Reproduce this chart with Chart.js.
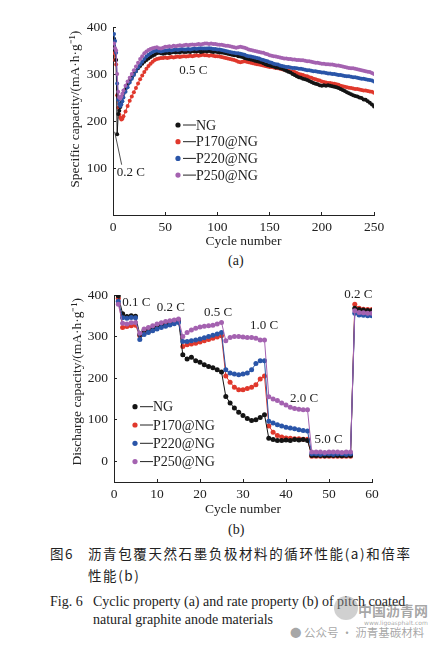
<!DOCTYPE html>
<html>
<head>
<meta charset="utf-8">
<script src="https://cdn.jsdelivr.net/npm/chart.js@4.4.1/dist/chart.umd.min.js"></script>
<style>
  body { margin: 0; background: #fff; }
  #pagina { position: relative; width: 445px; height: 647px; overflow: hidden; font-family: "Liberation Serif", serif; color: #222; }
  canvas { position: absolute; left: 0; }
  .texto { position: absolute; white-space: nowrap; line-height: 1; }
  .cjk { font-family: "Noto Sans CJK SC", sans-serif; font-size: 13.5px; letter-spacing: 1.6px; }
  .fig { font-size: 14px; }
  .marca { color: rgba(90, 90, 90, 0.55); }
</style>
</head>
<body>
<div id="pagina">
  <canvas id="graficoA" width="445" height="252" style="top:0"></canvas>
  <canvas id="graficoB" width="445" height="250" style="top:270px"></canvas>

  <div class="texto fig" style="left:228px; top:254px;">(a)</div>
  <div class="texto fig" style="left:228px; top:523px;">(b)</div>

  <div class="texto cjk" style="left:50px; top:547px;">图6</div>
  <div class="texto cjk" style="left:88px; top:547px;">沥青包覆天然石墨负极材料的循环性能(a)和倍率</div>
  <div class="texto cjk" style="left:88px; top:569px;">性能(b)</div>
  <div class="texto fig" style="left:50px; top:595px;">Fig. 6</div>
  <div class="texto fig" style="left:93px; top:595px;">Cyclic property (a) and rate property (b) of pitch coated</div>
  <div class="texto fig" style="left:93px; top:613px;">natural graphite anode materials</div>

  <div class="texto marca" style="left:334px; top:596px; width:24px; height:24px; border-radius:12px; background:rgba(150,150,150,0.45);"></div>
  <div class="texto marca" style="left:358px; top:603px; font-family:'Noto Sans CJK SC'; font-size:14px; font-weight:bold;">中国沥青网</div>
  <div class="texto marca" style="left:364px; top:620px; font-family:'DejaVu Sans'; font-size:6px;">www.ligoasphalt.com</div>
  <div class="texto marca" style="left:290px; top:627px; font-family:'Noto Sans CJK SC'; font-size:11.5px;">● 公众号 · 沥青基碳材料</div>
</div>

<script>
// (a) ciclo de vida a 0.5 C
const ciclosA = [1, 2, 3, 4, 5, 6, 7, 8, 9, 10,
  12, 14, 16, 18, 20, 22, 24, 26, 28, 30,
  32, 34, 36, 38, 40, 42, 44, 46, 48, 50,
  52, 54, 56, 58, 60, 62, 64, 66, 68, 70,
  72, 74, 76, 78, 80, 82, 84, 86, 88, 90,
  92, 94, 96, 98, 100, 102, 104, 106, 108, 110,
  112, 114, 116, 118, 120, 122, 124, 126, 128, 130,
  132, 134, 136, 138, 140, 142, 144, 146, 148, 150,
  152, 154, 156, 158, 160, 162, 164, 166, 168, 170,
  172, 174, 176, 178, 180, 182, 184, 186, 188, 190,
  192, 194, 196, 198, 200, 202, 204, 206, 208, 210,
  212, 214, 216, 218, 220, 222, 224, 226, 228, 230,
  232, 234, 236, 238, 240, 242, 244, 246, 248, 250];

const ngA = [375, 350, 330, 172, 215, 222, 230, 240, 250, 258,
  268, 278, 286, 293, 300, 306, 312, 317, 322, 326,
  330, 333, 336, 339, 341, 344, 345, 344, 343, 344,
  345, 344, 346, 347, 346, 347, 346, 348, 347, 347,
  348, 347, 349, 348, 348, 349, 347, 348, 349, 348,
  349, 348, 347, 348, 347, 346, 346, 345, 344, 343,
  342, 341, 340, 340, 338, 337, 336, 334, 333, 332,
  331, 330, 328, 327, 326, 325, 323, 321, 319, 318,
  317, 316, 314, 314, 312, 311, 309, 307, 305, 303,
  300, 298, 295, 293, 292, 290, 289, 287, 285, 283,
  281, 279, 278, 276, 275, 276, 275, 276, 275, 274,
  273, 272, 270, 268, 266, 264, 261, 259, 257, 255,
  253, 252, 250, 249, 246, 245, 242, 239, 235, 231];

const p170A = [345, 330, 320, 255, 228, 214, 207, 203, 205, 210,
  220, 232, 243, 252, 261, 270, 280, 289, 297, 304,
  311, 317, 322, 326, 330, 332, 333, 334, 334, 335,
  334, 335, 336, 335, 336, 337, 336, 337, 338, 337,
  338, 339, 338, 339, 340, 339, 340, 341, 340, 340,
  339, 340, 339, 338, 338, 337, 336, 335, 334, 333,
  332, 331, 330, 328, 326, 325, 326, 327, 326, 325,
  324, 323, 322, 321, 320, 319, 318, 317, 316, 315,
  315, 314, 313, 312, 311, 310, 309, 308, 307, 306,
  305, 304, 302, 300, 299, 298, 296, 295, 293, 292,
  290, 289, 287, 286, 284, 283, 282, 281, 281, 280,
  279, 278, 277, 275, 274, 273, 272, 271, 270, 269,
  268, 268, 267, 266, 265, 265, 264, 263, 262, 260];

const p220A = [385, 370, 345, 280, 245, 236, 232, 235, 242, 250,
  262, 272, 282, 290, 298, 306, 314, 320, 326, 332,
  337, 341, 344, 347, 349, 350, 349, 348, 349, 350,
  350, 351, 350, 351, 352, 351, 352, 353, 352, 352,
  353, 352, 353, 354, 353, 354, 355, 354, 354, 354,
  355, 354, 353, 353, 352, 352, 351, 350, 349, 348,
  347, 346, 345, 344, 344, 343, 342, 341, 339, 338,
  337, 336, 335, 334, 333, 331, 330, 328, 327, 325,
  324, 322, 321, 320, 318, 317, 316, 315, 315, 314,
  313, 313, 312, 311, 311, 310, 309, 308, 308, 307,
  306, 306, 305, 304, 303, 303, 302, 301, 301, 300,
  300, 299, 298, 298, 297, 296, 295, 295, 294, 293,
  293, 292, 291, 290, 290, 289, 288, 287, 286, 284];

const p250A = [365, 355, 350, 300, 262, 250, 248, 252, 258, 265,
  275, 284, 292, 300, 308, 316, 324, 332, 338, 344,
  348, 351, 353, 355, 356, 357, 355, 354, 356, 358,
  358, 359, 358, 360, 359, 360, 361, 360, 361, 362,
  361, 362, 363, 362, 363, 364, 363, 364, 365, 365,
  364, 365, 364, 364, 363, 362, 362, 361, 360, 360,
  359, 358, 357, 356, 357, 358, 357, 356, 354, 352,
  351, 350, 349, 348, 347, 346, 345, 343, 342, 340,
  339, 338, 337, 336, 335, 334, 333, 333, 332, 332,
  331, 331, 330, 330, 329, 329, 328, 327, 327, 326,
  325, 324, 324, 323, 322, 322, 321, 321, 320, 320,
  319, 318, 318, 317, 316, 315, 314, 313, 312, 312,
  311, 310, 309, 308, 307, 306, 305, 304, 302, 300];

// (b) rendimiento a distintas tasas
const ciclosB = [];
for (let i = 1; i <= 60; i++) ciclosB.push(i);

const ngB = [398, 355, 348, 350, 349,
  305, 315, 318, 322, 325, 328, 330, 333, 336, 340,
  256, 246, 250, 242, 238, 232, 228, 225, 220, 215,
  156, 140, 128, 118, 110, 103, 98, 100, 105, 112,
  55, 52, 50, 50, 51, 50, 52, 51, 52, 50,
  14, 14, 14, 13, 14, 14, 14, 13, 14, 14,
  368, 365, 364, 363, 363];

const p170B = [392, 322, 324, 326, 327,
  302, 308, 312, 318, 322, 326, 329, 333, 336, 339,
  276, 280, 282, 284, 287, 290, 293, 296, 299, 302,
  205, 190, 178, 172, 172, 175, 178, 184, 198, 205,
  85, 70, 62, 58, 56, 55, 54, 54, 53, 53,
  12, 12, 12, 12, 12, 12, 12, 12, 12, 12,
  378, 368, 366, 365, 365];

const p220B = [385, 345, 344, 346, 345,
  293, 305, 310, 314, 318, 322, 325, 328, 331, 334,
  288, 288, 290, 292, 294, 297, 300, 303, 306, 310,
  220, 212, 210, 208, 210, 212, 220, 235, 242, 242,
  96, 92, 88, 85, 82, 80, 78, 76, 74, 73,
  18, 18, 17, 18, 18, 17, 18, 18, 17, 18,
  356, 352, 351, 350, 350];

const p250B = [378, 332, 330, 333, 334,
  308, 318, 322, 326, 330, 333, 336, 338, 340, 342,
  300, 310, 316, 320, 323, 325, 326, 327, 330, 334,
  290, 298, 300, 300, 299, 298, 298, 296, 292, 292,
  155, 150, 146, 140, 135, 130, 127, 125, 124, 124,
  22, 22, 22, 21, 22, 22, 22, 21, 22, 22,
  362, 358, 357, 356, 356];

const muestras = ["NG", "P170@NG", "P220@NG", "P250@NG"];
const colores = ["#141414", "#e0382c", "#2a55a8", "#a462b0"];
const ordenDibujo = [3, 4, 2, 1];

const tasasA = [
  { texto: "0.2 C", ciclo: 17, valor: 90 },
  { texto: "0.5 C", ciclo: 77, valor: 307 }
];
const tasasB = [
  { texto: "0.1 C", ciclo: 5.2, valor: 381 },
  { texto: "0.2 C", ciclo: 13.2, valor: 369 },
  { texto: "0.5 C", ciclo: 24.2, valor: 357 },
  { texto: "1.0 C", ciclo: 34.9, valor: 326 },
  { texto: "2.0 C", ciclo: 44.2, valor: 150 },
  { texto: "5.0 C", ciclo: 49.9, valor: 52 },
  { texto: "0.2 C", ciclo: 56.8, valor: 400 }
];

const fuente = { family: "Liberation Serif", size: 13.5 };
const tinta = "#222";

function armarSeries(ciclos, listas, radio) {
  return listas.map((valores, i) => ({
    label: muestras[i],
    data: ciclos.map((c, k) => ({ x: c, y: valores[k] })),
    borderColor: colores[i],
    backgroundColor: colores[i],
    borderWidth: 1,
    pointRadius: radio,
    pointBorderWidth: 0,
    pointHoverRadius: radio,
    tension: 0,
    order: ordenDibujo[i]
  }));
}

// leyenda y rotulos de tasa dentro del area
const rotulos = {
  id: "rotulos",
  afterDraw(chart, args, opts) {
    const ctx = chart.ctx;
    const ex = chart.scales.x;
    const ey = chart.scales.y;
    ctx.save();
    ctx.fillStyle = tinta;
    ctx.strokeStyle = tinta;
    ctx.font = '13px "Liberation Serif"';
    ctx.textAlign = "center";
    ctx.textBaseline = "middle";
    opts.tasas.forEach((t) => {
      ctx.fillText(t.texto, ex.getPixelForValue(t.ciclo), ey.getPixelForValue(t.valor));
    });

    if (opts.flecha) {
      ctx.lineWidth = 0.8;
      ctx.beginPath();
      ctx.moveTo(ex.getPixelForValue(opts.flecha[0]), ey.getPixelForValue(opts.flecha[1]));
      ctx.lineTo(ex.getPixelForValue(opts.flecha[2]), ey.getPixelForValue(opts.flecha[3]));
      ctx.stroke();
    }

    const ley = opts.leyenda;
    ctx.font = '14px "Liberation Serif"';
    ctx.textAlign = "left";
    muestras.forEach((nombre, i) => {
      const yy = ley.y + i * ley.paso;
      ctx.fillStyle = colores[i];
      ctx.beginPath();
      ctx.arc(ley.x, yy, 2.6, 0, Math.PI * 2);
      ctx.fill();
      ctx.strokeStyle = tinta;
      ctx.lineWidth = 1;
      ctx.beginPath();
      ctx.moveTo(ley.x + 5, yy);
      ctx.lineTo(ley.x + 18, yy);
      ctx.stroke();
      ctx.fillStyle = tinta;
      ctx.fillText(nombre, ley.x + 18, yy + 1);
    });
    ctx.restore();
  }
};

function ejeX(min, max, paso, alto) {
  return {
    type: "linear",
    min: min,
    max: max,
    afterFit: (s) => { s.height = alto; },
    ticks: { stepSize: paso, font: fuente, color: tinta, padding: 7, maxRotation: 0 },
    grid: { drawOnChartArea: false, tickLength: -3, color: tinta },
    border: { color: tinta, width: 1 },
    title: { display: true, text: "Cycle number", font: fuente, color: tinta, padding: { top: 0, bottom: 2 } }
  };
}

function ejeY(min, max, ancho, texto, margen) {
  return {
    min: min,
    max: max,
    afterFit: (s) => { s.width = ancho; },
    ticks: {
      stepSize: 100,
      font: fuente,
      color: tinta,
      padding: 9,
      callback: (v) => (v > 0 || (v === 0 && min < 0) ? v : "")
    },
    grid: { drawOnChartArea: false, tickLength: -3, color: tinta },
    border: { color: tinta, width: 1 },
    title: { display: true, text: texto, font: fuente, color: tinta, padding: { top: margen, bottom: 0 } }
  };
}

new Chart(document.getElementById("graficoA"), {
  type: "line",
  data: { datasets: armarSeries(ciclosA, [ngA, p170A, p220A, p250A], 2) },
  options: {
    responsive: false,
    animation: false,
    layout: { padding: { left: 0, right: 71, top: 27, bottom: 0 } },
    plugins: {
      legend: { display: false },
      tooltip: { enabled: false },
      rotulos: {
        tasas: tasasA,
        flecha: [1.6, 177, 8.3, 107],
        leyenda: { x: 178, y: 125, paso: 16.7 }
      }
    },
    scales: {
      x: ejeX(0, 250, 50, 37),
      y: ejeY(0, 400, 113, "       Specific capacity/(mA·h·g⁻¹)", 67)
    }
  },
  plugins: [rotulos]
});

new Chart(document.getElementById("graficoB"), {
  type: "line",
  data: { datasets: armarSeries(ciclosB, [ngB, p170B, p220B, p250B], 2.5) },
  options: {
    responsive: false,
    animation: false,
    layout: { padding: { left: 0, right: 73, top: 25, bottom: 0 } },
    plugins: {
      legend: { display: false },
      tooltip: { enabled: false },
      rotulos: {
        tasas: tasasB,
        leyenda: { x: 135, y: 136.7, paso: 18.3 }
      }
    },
    scales: {
      x: ejeX(0, 60, 10, 38),
      y: ejeY(-50, 400, 114, "    Discharge capacity/(mA·h·g⁻¹)", 69)
    }
  },
  plugins: [rotulos]
});
</script>
</body>
</html>
